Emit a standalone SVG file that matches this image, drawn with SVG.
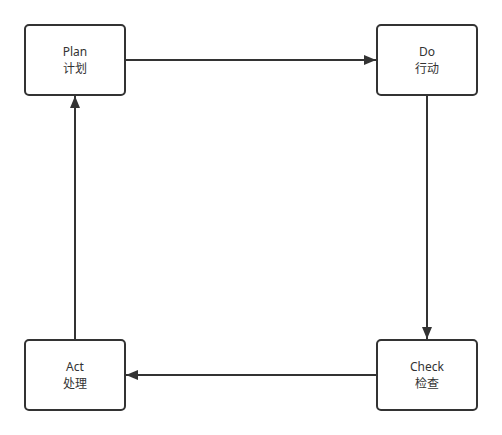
<svg xmlns="http://www.w3.org/2000/svg" width="502" height="435" viewBox="0 0 502 435">
<style>
.node rect{fill:#ffffff;stroke:#333333;stroke-width:2}
.node text{font-family:"Microsoft YaHei","Noto Sans","Noto Sans CJK SC",sans-serif;font-size:12px;fill:#333333;text-anchor:middle}
.edge{fill:none;stroke:#333333;stroke-width:2}
</style>
<defs>
<marker id="arr" markerWidth="12" markerHeight="10" refX="12" refY="5" orient="auto" markerUnits="userSpaceOnUse">
<path d="M0,0 L12,5 L0,10 Z" fill="#333333"/>
</marker>
</defs>
<rect width="502" height="435" fill="#ffffff"/>
<g id="connectors">
<line class="edge" x1="125" y1="60" x2="376" y2="60" marker-end="url(#arr)"/>
<line class="edge" x1="427" y1="95" x2="427" y2="339" marker-end="url(#arr)"/>
<line class="edge" x1="377" y1="375" x2="126" y2="375" marker-end="url(#arr)"/>
<line class="edge" x1="75" y1="340" x2="75" y2="96" marker-end="url(#arr)"/>
</g>
<g id="plan" class="node">
<rect x="25" y="25" width="100" height="70" rx="4"/>
<text x="75" y="56">Plan</text>
<text x="75" y="73">计划</text>
</g>
<g id="do" class="node">
<rect x="377" y="25" width="100" height="70" rx="4"/>
<text x="427" y="56">Do</text>
<text x="427" y="73">行动</text>
</g>
<g id="check" class="node">
<rect x="377" y="340" width="100" height="70" rx="4"/>
<text x="427" y="371">Check</text>
<text x="427" y="388">检查</text>
</g>
<g id="act" class="node">
<rect x="25" y="340" width="100" height="70" rx="4"/>
<text x="75" y="371">Act</text>
<text x="75" y="388">处理</text>
</g>
</svg>
